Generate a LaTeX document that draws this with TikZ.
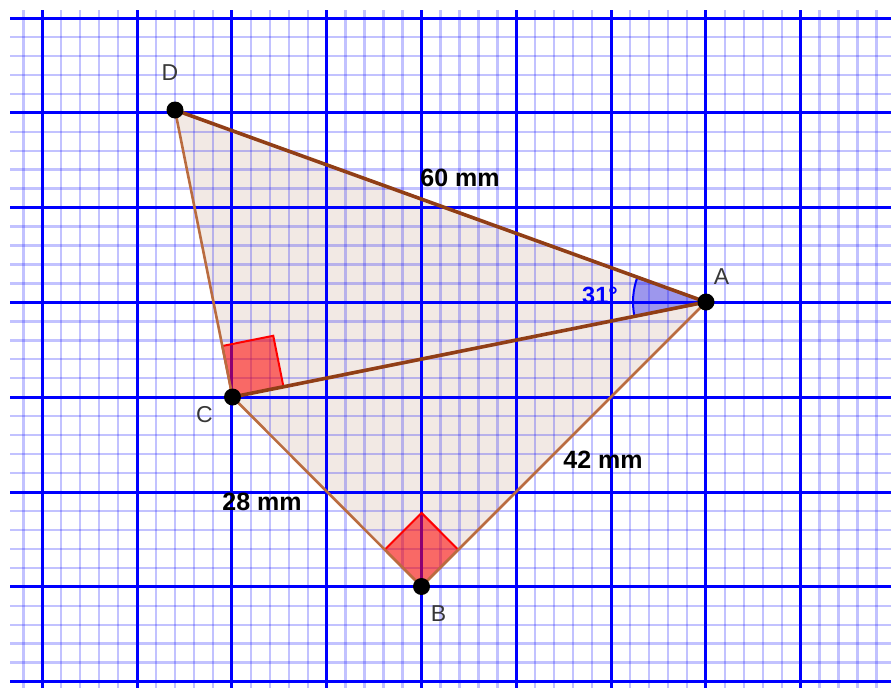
\documentclass[tikz,border=0pt]{standalone}
\usepackage{fontspec}
\setmainfont{Liberation Sans}
\usetikzlibrary{calc}
\definecolor{darkedge}{RGB}{145,62,22}
\definecolor{lightedge}{RGB}{186,108,64}
\definecolor{fillbeige}{RGB}{242,233,228}
\definecolor{labelgray}{RGB}{55,55,55}
\tikzset{
  minorline/.style={blue, opacity=0.24, line width=2.4pt},
  majorline/.style={blue, line width=3pt},
  dot/.style={circle, fill=black, inner sep=0pt, minimum size=17pt},
  ptlabel/.style={font=\fontsize{23}{23}\selectfont, text=labelgray, inner sep=0pt},
  mlabel/.style={font=\fontsize{25}{25}\selectfont\bfseries, text=black, inner sep=0pt},
  anglabel/.style={font=\fontsize{23.5}{23.5}\selectfont\bfseries, text=blue, inner sep=0pt},
  rightmark/.style={fill=red, fill opacity=0.55, draw=red, line width=2pt, line join=miter},
  angfill/.style={fill=blue, fill opacity=0.35},
  angarc/.style={draw=blue, line width=2pt},
  thinedge/.style={lightedge, line width=2.6pt, line cap=round},
  thickedge/.style={darkedge, line width=3.6pt, line cap=round}
}
\begin{document}
\begin{tikzpicture}[x=1pt,y=-1pt]
\useasboundingbox (0,0) rectangle (891,688);
\coordinate (D) at (175,110);
\coordinate (A) at (706,302);
\coordinate (C) at (232.5,397);
\coordinate (B) at (421.5,586.5);
% filled quadrilateral
\fill[fillbeige] (D) -- (A) -- (B) -- (C) -- cycle;
% grid
\begin{scope}
  \clip (10,10) rectangle (891,688);
  \foreach \i in {-1,...,45} {\draw[minorline] ({42.3+\i*18.96},0) -- ({42.3+\i*18.96},688);}
  \foreach \i in {0,...,36} {\draw[minorline] (0,{18+\i*18.96}) -- (891,{18+\i*18.96});}
  \foreach \i in {0,...,9} {\draw[majorline] ({42.3+\i*94.8},0) -- ({42.3+\i*94.8},688);}
  \foreach \i in {0,...,7} {\draw[majorline] (0,{18+\i*94.8}) -- (891,{18+\i*94.8});}
\end{scope}
% right angle marks
\coordinate (c1) at ($(C)!52pt!(A)$);
\coordinate (c2) at ($(C)!52pt!(D)$);
\draw[rightmark] (C) -- (c1) -- ($(c1)+(c2)-(C)$) -- (c2) -- cycle;
\coordinate (b1) at ($(B)!52pt!(A)$);
\coordinate (b2) at ($(B)!52pt!(C)$);
\draw[rightmark] (B) -- (b1) -- ($(b1)+(b2)-(B)$) -- (b2) -- cycle;
% angle mark at A
\path[angfill] let \p1=($(D)-(A)$), \p2=($(C)-(A)$), \n1={atan2(\y1,\x1)}, \n2={atan2(\y2,\x2)+360} in
  (A) -- ($(A)+(\n1:73pt)$) arc[start angle=\n1, end angle=\n2, radius=73pt] -- cycle;
\path[angarc] let \p1=($(D)-(A)$), \p2=($(C)-(A)$), \n1={atan2(\y1,\x1)}, \n2={atan2(\y2,\x2)+360} in
  ($(A)+(\n1:73pt)$) arc[start angle=\n1, end angle=\n2, radius=73pt];
% edges
\draw[thinedge] (D) -- (C) -- (B) -- (A);
\draw[thickedge] (C) -- (A) -- (D);
% points
\node[dot] (dotD) at (D) {};
\node[dot] (dotA) at (A) {};
\node[dot] (dotC) at (C) {};
\node[dot] (dotB) at (B) {};
% labels
\node[ptlabel] (labD) at (170,72.5) {D};
\node[ptlabel] (labA) at (721.5,277) {A};
\node[ptlabel] (labC) at (204.5,414.5) {C};
\node[ptlabel] (labB) at (438.5,613.5) {B};
\node[mlabel] (l60) at (460,178) {60 mm};
\node[mlabel] (l42) at (603,460) {42 mm};
\node[mlabel] (l28) at (262,502) {28 mm};
\node[anglabel] (l31) at (600,295) {31°};
\end{tikzpicture}
\end{document}
